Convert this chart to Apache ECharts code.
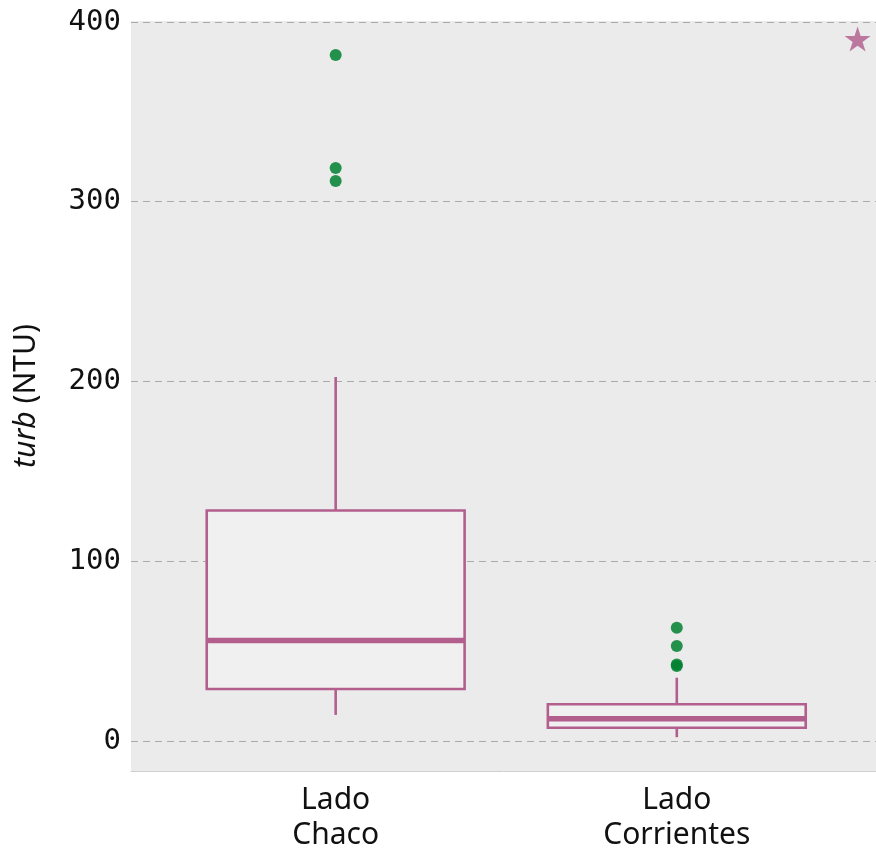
<!DOCTYPE html>
<html>
<head>
<meta charset="utf-8">
<title>turb (NTU)</title>
<script src="https://cdn.jsdelivr.net/npm/echarts@6/dist/echarts.min.js"></script>
<style>
  html, body { margin: 0; padding: 0; background: #ffffff; }
  #chart { width: 876px; height: 848px; }
</style>
</head>
<body>
<div id="chart"></div>
<script>
// Sampling sides and their positions along the x axis
const categories = ['Lado\nChaco', 'Lado\nCorrientes'];
const positions = [1, 2];

// Box statistics per side: [lower whisker, Q1, median, Q3, upper whisker]
const boxStats = [
  [14.5, 28.9, 55.9, 128.2, 202.5],
  [2.1, 7.4, 12.4, 20.4, 35.2]
];

// Outliers per side: [side index, value]
const outliers = [
  [0, 381.6], [0, 318.8], [0, 311.5],
  [1, 63.0], [1, 52.9], [1, 42.6], [1, 41.7]
];

// Marker in the upper right corner: [x, value]
const starPoint = [[2.53, 390.5]];

// Y axis tick values
const yTicks = [0, 100, 200, 300, 400];

const boxColor = '#b35f8e';
const boxHalfWidth = 0.378;

const boxData = boxStats.map((s, i) => [positions[i]].concat(s));
const outlierData = outliers.map(o => [positions[o[0]], o[1]]);

const chart = echarts.init(document.getElementById('chart'), null, { renderer: 'canvas' });

chart.setOption({
  animation: false,
  backgroundColor: '#ffffff',
  grid: {
    left: 131, right: 0, top: 21, height: 750,
    show: true, backgroundColor: '#ebebeb', borderWidth: 0,
    containLabel: false,
    outerBoundsMode: 'none'
  },
  xAxis: {
    type: 'value',
    min: 0.4, max: 2.584,
    splitLine: { show: false },
    axisTick: { show: false },
    axisLine: { show: true, onZero: false, lineStyle: { color: '#cfcfcf', width: 1 } },
    axisLabel: {
      customValues: positions,
      formatter: v => categories[positions.indexOf(Math.round(v))] || '',
      fontFamily: 'Noto Sans', fontSize: 30, color: '#111111',
      lineHeight: 35, margin: 12
    }
  },
  yAxis: {
    type: 'value',
    min: -16.7, max: 400.55,
    name: '{i|turb} (NTU)',
    nameLocation: 'middle',
    nameGap: 90,
    nameRotate: 90,
    nameTextStyle: {
      fontFamily: 'Noto Sans', fontSize: 30, color: '#111111',
      rich: { i: { fontFamily: 'Noto Sans', fontSize: 30, fontStyle: 'italic', color: '#111111' } }
    },
    axisLine: { show: false },
    axisTick: { show: false, customValues: yTicks },
    axisLabel: {
      customValues: yTicks,
      fontFamily: 'DejaVu Sans Mono', fontSize: 29, color: '#111111', margin: 10
    },
    splitLine: {
      show: true,
      lineStyle: { color: '#aaaaaa', type: [7, 5], width: 1 }
    }
  },
  series: [
    {
      type: 'custom',
      name: 'box',
      data: boxData,
      encode: { x: 0, y: [1, 2, 3, 4, 5] },
      renderItem: function (params, api) {
        const x = api.value(0);
        const lo = api.value(1), q1 = api.value(2), med = api.value(3), q3 = api.value(4), hi = api.value(5);
        const tl = api.coord([x - boxHalfWidth, q3]);
        const br = api.coord([x + boxHalfWidth, q1]);
        const cx = api.coord([x, 0])[0];
        const yLo = api.coord([x, lo])[1];
        const yHi = api.coord([x, hi])[1];
        const yMed = api.coord([x, med])[1];
        const stroke = { stroke: boxColor, lineWidth: 2.6, fill: null };
        return {
          type: 'group',
          children: [
            { type: 'line', shape: { x1: cx, y1: tl[1], x2: cx, y2: yHi }, style: stroke },
            { type: 'line', shape: { x1: cx, y1: br[1], x2: cx, y2: yLo }, style: stroke },
            {
              type: 'rect',
              shape: { x: tl[0], y: tl[1], width: br[0] - tl[0], height: br[1] - tl[1] },
              style: { fill: '#f0f0f0', stroke: boxColor, lineWidth: 2.6 }
            },
            { type: 'line', shape: { x1: tl[0], y1: yMed, x2: br[0], y2: yMed }, style: { stroke: boxColor, lineWidth: 5.5 } }
          ]
        };
      },
      z: 2
    },
    {
      type: 'scatter',
      name: 'outliers',
      data: outlierData,
      symbol: 'circle',
      symbolSize: 12,
      itemStyle: { color: '#00802f', opacity: 0.85 },
      z: 3
    },
    {
      type: 'scatter',
      name: 'star',
      data: starPoint,
      symbol: 'path://M50,0 L61.8,36.2 L100,36.2 L69.1,58.6 L80.9,95.1 L50,72.6 L19.1,95.1 L30.9,58.6 L0,36.2 L38.2,36.2 Z',
      symbolSize: [26, 25],
      itemStyle: { color: '#b05a8b' },
      z: 3
    }
  ]
});
</script>
</body>
</html>
